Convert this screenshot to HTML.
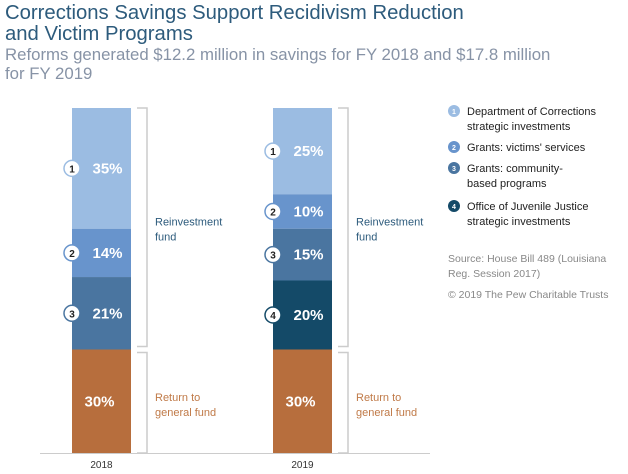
<!DOCTYPE html>
<html><head><meta charset="utf-8"><style>
body{margin:0;background:#fff;font-family:"Liberation Sans",sans-serif;}
#wrap{position:relative;width:628px;height:474px;overflow:hidden;}
.t{position:absolute;white-space:nowrap;}
</style></head><body>
<div id="wrap">
<div class="t" style="left:5px;top:3px;font-size:20.3px;line-height:21px;color:#2d5b7c;">Corrections Savings Support Recidivism Reduction<br>and Victim Programs</div>
<div class="t" style="left:5px;top:45px;font-size:16.8px;line-height:19px;color:#8793a6;">Reforms generated $12.2 million in savings for FY 2018 and $17.8 million<br>for FY 2019</div>
<svg id="svg" width="628" height="474" style="position:absolute;left:0;top:0"></svg>
</div>
<script>
const years=["2018","2019"];
const segLabels=["1","2","3","4","gf"];
const v2018=[35,14,21,0,30];
const v2019=[25,10,15,20,30];
const colors=["#9bbce2","#6894cc","#4a75a0","#144a68","#b76e3d"];
const legendItems=["Department of Corrections|strategic investments","Grants: victims' services","Grants: community-|based programs","Office of Juvenile Justice|strategic investments"];
const NS="http://www.w3.org/2000/svg";
const svg=document.getElementById('svg');
function mk(t,a,p){const e=document.createElementNS(NS,t);for(const k in a)e.setAttribute(k,a[k]);(p||svg).appendChild(e);return e;}
const top0=108,bot=453;
function y(p){return top0+(bot-top0)*p/100;}
const barX=[72,273],barW=59;
const bl=mk('line',{x1:40,x2:430,y1:bot+0.5,y2:bot+0.5,stroke:'#ccc','stroke-width':1});

[v2018,v2019].forEach((vals,i)=>{
  let cum=0;const x=barX[i];
  vals.forEach((v,j)=>{
    if(!v)return;
    const y0=y(cum),y1=y(cum+v);cum+=v;
    const r=mk('rect',{x:x,y:y0,width:barW,height:y1-y0,fill:colors[j]});
    
    
    const cy=(y0+y1)/2;
    const tx=mk('text',{x:j===4?x+barW/2-2:x+barW/2+6,y:cy+5,'text-anchor':'middle',fill:'#fff','font-size':15,'font-weight':'bold'});
    tx.textContent=v+'%';
    
    if(j<4){
      const c=mk('circle',{cx:x,cy:cy,r:8,fill:'#fff',stroke:colors[j],'stroke-width':1.5});
      
      const ct=mk('text',{x:x,y:cy+4,'text-anchor':'middle',fill:'#222','font-size':10,'font-weight':'bold'});
      ct.textContent=segLabels[j];
      
    }
  });
  const yl=mk('text',{x:x+barW/2,y:bot+15,'text-anchor':'middle',fill:'#333','font-size':10});
  yl.textContent=years[i];
  
  const bx=x+barW+16, split=y(100-vals[4]);
  [[top0,split-3,'Reinvestment','fund','#2d5b7c'],[split+3,bot,'Return to','general fund','#c07a48']].forEach(b=>{
    const p=mk('path',{d:`M${bx-10} ${b[0]}H${bx}V${b[1]}H${bx-10}`,fill:'none',stroke:'#ccc','stroke-width':1.5});
    
    const ty=(b[0]+b[1])/2;
    const t=mk('text',{x:bx+8,y:ty-2,fill:b[4],'font-size':11});
    
    const s1=mk('tspan',{x:bx+8},t);s1.textContent=b[2];
    const s2=mk('tspan',{x:bx+8,dy:15},t);s2.textContent=b[3];
  });
});
const ly=[115,151,172,210];
legendItems.forEach((s,i)=>{
  const c=mk('circle',{cx:454,cy:ly[i]-4,r:6,fill:colors[i]});
  
  const n=mk('text',{x:454,y:ly[i]-1,'text-anchor':'middle',fill:'#fff','font-size':7,'font-weight':'bold'});
  n.textContent=String(i+1);
  
  const t=mk('text',{x:467,y:ly[i],fill:'#222','font-size':11});
  
  s.split('|').forEach((part,k)=>{const sp=mk('tspan',{x:467,dy:k?15:0},t);sp.textContent=part;});
});
const src=mk('text',{x:448,y:262,fill:'#888','font-size':10.5});

const a1=mk('tspan',{x:448},src);a1.textContent='Source: House Bill 489 (Louisiana';
const a2=mk('tspan',{x:448,dy:15},src);a2.textContent='Reg. Session 2017)';
const cp=mk('text',{x:448,y:298,fill:'#888','font-size':10.5});
cp.textContent='© 2019 The Pew Charitable Trusts';

</script>
</body></html>
